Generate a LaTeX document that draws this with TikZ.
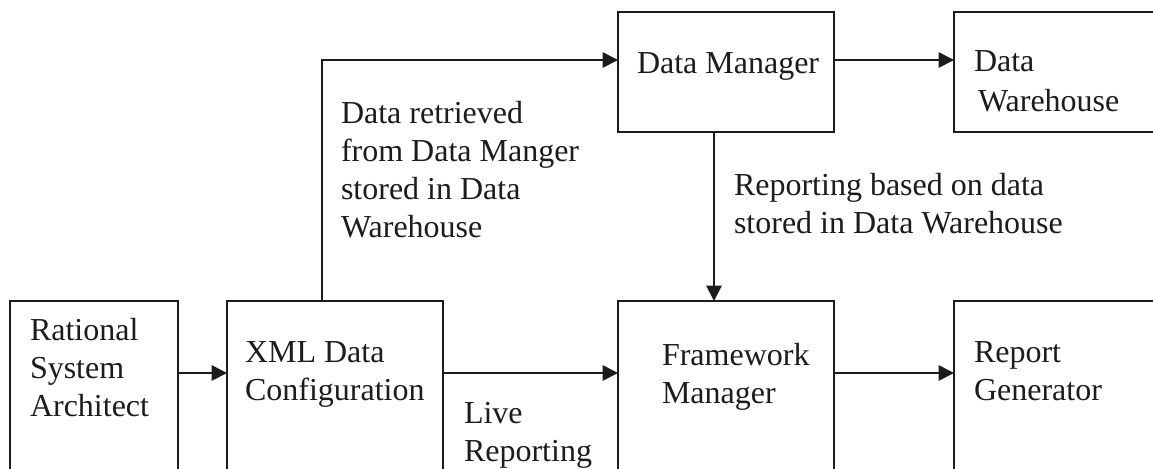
\documentclass[tikz,border=0pt]{standalone}
\usepackage{fontspec}
\setmainfont{Liberation Serif}
\usetikzlibrary{arrows.meta}
\definecolor{ink}{HTML}{1C1C1C}
\tikzset{
  boxnode/.style={draw=ink,line width=1.4pt,rectangle,inner sep=0pt,outer sep=0pt,anchor=north west},
  txt/.style={anchor=north west,inner sep=0pt,outer sep=0pt,align=left,text=ink,font=\fontsize{24}{28.5}\selectfont},
  arr/.style={draw=ink,line width=1.4pt,-{Triangle[length=11.5pt,width=11.5pt]}}
}
\begin{document}
\begin{tikzpicture}[x=0.75pt,y=-0.75pt]
\useasboundingbox (0,0) rectangle (1153,468);
\clip (0,0) rectangle (1153,468);
\fill[white] (0,0) rectangle (1153,468);
\coordinate (rowtop) at (0,60);
\coordinate (rowbot) at (0,373);
\coordinate (colup) at (322,0);
\coordinate (coldown) at (714,0);
% boxes
\node[boxnode,minimum width=126pt,minimum height=135pt] (rsa) at (10,301) {};
\node[boxnode,minimum width=162pt,minimum height=135pt] (xml) at (227,301) {};
\node[boxnode,minimum width=162pt,minimum height=90pt] (dm) at (618,12) {};
\node[boxnode,minimum width=162pt,minimum height=135pt] (fm) at (618,301) {};
\node[boxnode,minimum width=162pt,minimum height=90pt] (dw) at (954,12) {};
\node[boxnode,minimum width=162pt,minimum height=135pt] (rg) at (954,301) {};
% box texts
\node[txt] (rsat) at (30,318) {Rational\\System\\Architect};
\node[txt] (xmlt) at (245,342) {XML Data\\Configuration};
\node[txt] (dmt) at (637,53) {Data Manager};
\node[txt] (dwt) at (974,51) {Data\\[1.5pt]\hspace*{3pt}Warehouse};
\node[txt] (fmt) at (662,343) {Framework\\Manager};
\node[txt] (rgt) at (974,342) {Report\\Generator};
% connector labels
\node[txt] (lab1) at (341,101) {Data retrieved\\from Data Manger\\stored in Data\\Warehouse};
\node[txt] (lab2) at (734,173) {Reporting based on data\\stored in Data Warehouse};
\node[txt] (lab3) at (464,402) {Live\\Reporting};
% connectors
\draw[arr] (rsa.east |- rowbot) -- (xml.west |- rowbot);
\draw[arr] (xml.east |- rowbot) -- (fm.west |- rowbot);
\draw[arr] (fm.east |- rowbot) -- (rg.west |- rowbot);
\draw[arr] (dm.east |- rowtop) -- (dw.west |- rowtop);
\draw[arr] (xml.north -| colup) |- (dm.west |- rowtop);
\draw[arr] (dm.south -| coldown) -- (fm.north -| coldown);
\end{tikzpicture}
\end{document}
